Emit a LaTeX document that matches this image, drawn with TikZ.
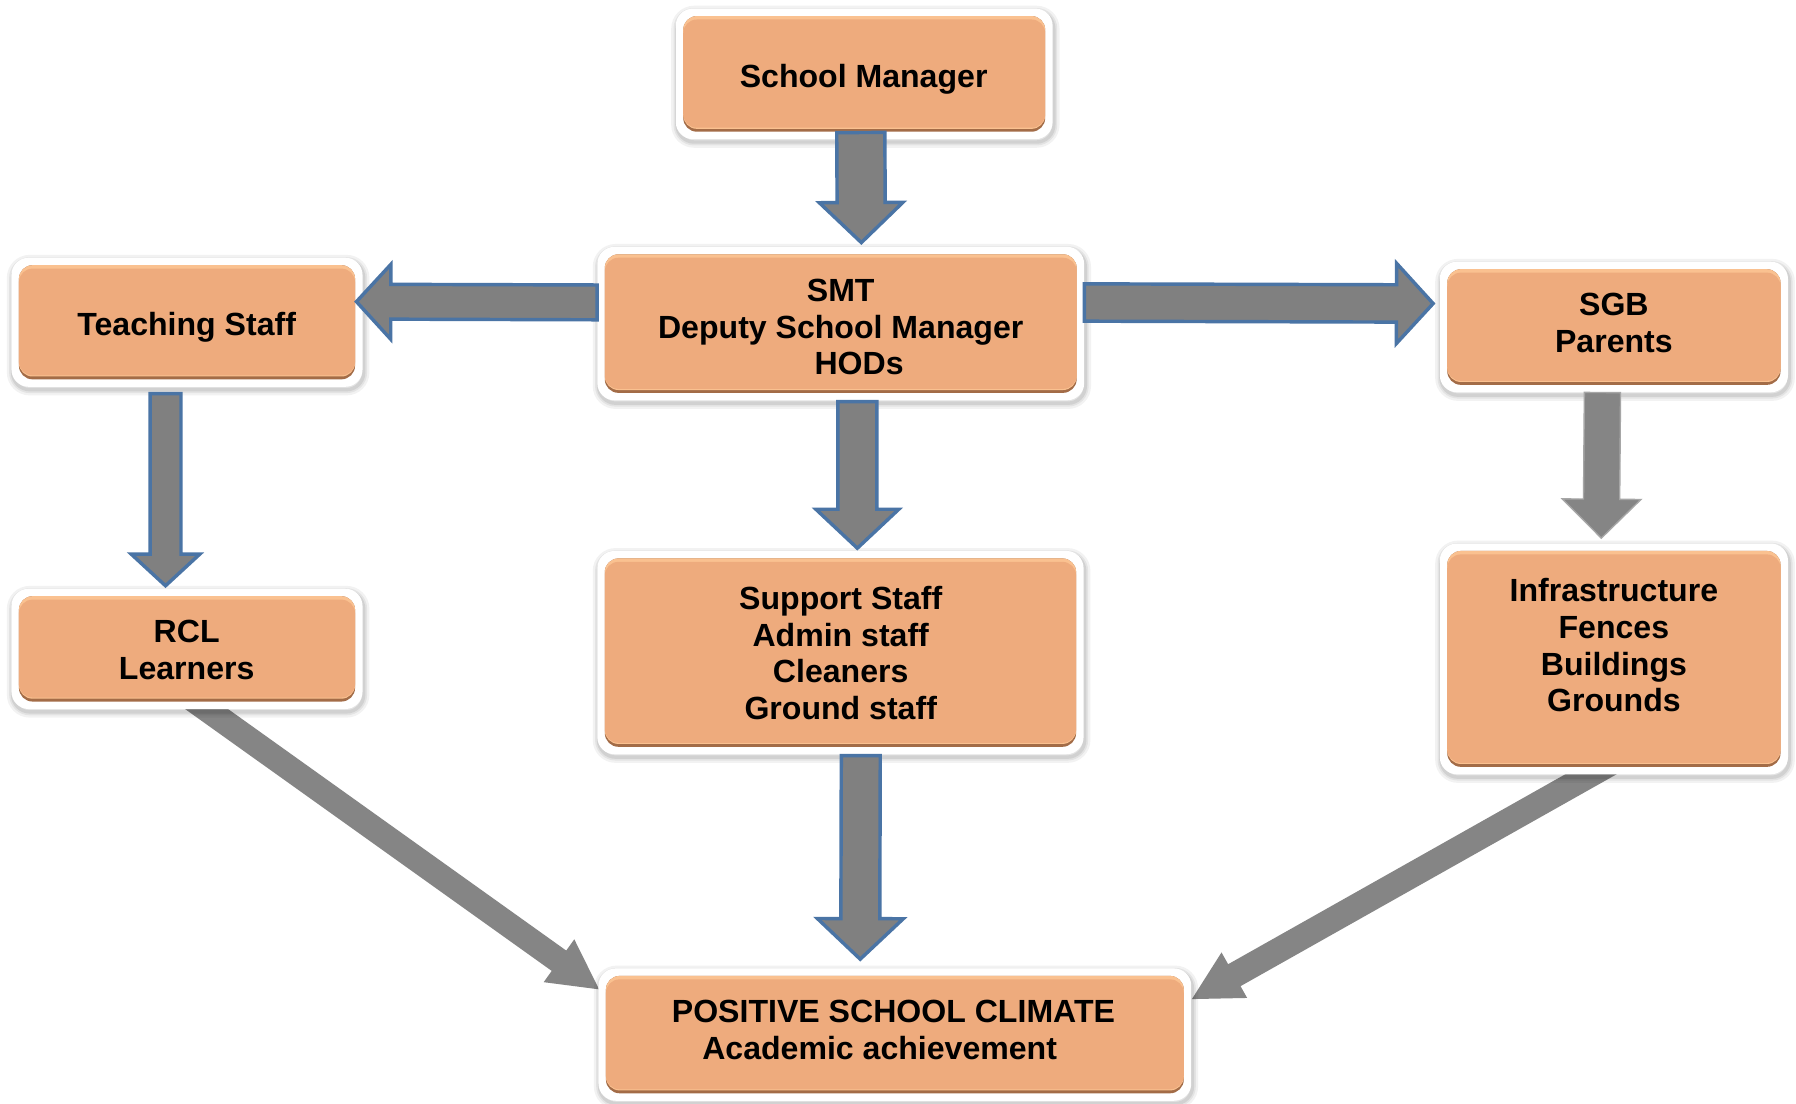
\documentclass[tikz,border=0pt]{standalone}
\usepackage{fontspec}
\setmainfont{Liberation Sans}
\usetikzlibrary{calc}
\definecolor{boxorange}{HTML}{EEAB7D}
\definecolor{rimlight}{HTML}{FAC190}
\definecolor{rimdark}{HTML}{A36C47}
\definecolor{arrowgray}{HTML}{808080}
\definecolor{plaingray}{HTML}{858585}
\definecolor{arrowblue}{HTML}{4A74A5}
\pgfdeclarelayer{background}
\pgfsetlayers{background,main}

\newcommand{\blockarr}[6]{%
  \coordinate (ba-s) at (#2);
  \coordinate (ba-t) at (#3);
  \coordinate (ba-b) at ($(ba-t)!#6!(ba-s)$);
  \draw[#1] ($(ba-s)!#4!90:(ba-t)$) -- ($(ba-b)!#4!90:(ba-t)$) -- ($(ba-b)!#5!90:(ba-t)$) -- (ba-t) -- ($(ba-b)!#5!-90:(ba-t)$) -- ($(ba-b)!#4!-90:(ba-t)$) -- ($(ba-s)!#4!-90:(ba-t)$) -- cycle;
}

\tikzset{
  orgbox/.style={rectangle, rounded corners=15pt, fill=white, draw=none, inner sep=0pt,
    preaction={draw=black, draw opacity=0.05, line width=10pt, transform canvas={xshift=1pt, yshift=-2.5pt}},
    preaction={draw=black, draw opacity=0.06, line width=6pt, transform canvas={xshift=1pt, yshift=-2.5pt}},
    preaction={draw=black, draw opacity=0.08, line width=3pt, transform canvas={xshift=1pt, yshift=-2.5pt}},
    path picture={
      \fill[rimdark, rounded corners=12pt] ([shift={(6.5pt,6.5pt)}]path picture bounding box.south west) rectangle ([shift={(-6.5pt,-6.5pt)}]path picture bounding box.north east);
      \fill[rimlight, rounded corners=12pt] ([shift={(6.5pt,9pt)}]path picture bounding box.south west) rectangle ([shift={(-6.5pt,-6.5pt)}]path picture bounding box.north east);
      \fill[boxorange, rounded corners=12pt] ([shift={(6.5pt,10pt)}]path picture bounding box.south west) rectangle ([shift={(-6.5pt,-9.5pt)}]path picture bounding box.north east);
    }},
  boxtext/.style={font=\bfseries\fontsize{28}{32}\selectfont, align=center, inner sep=0pt, text=black},
  blk/.style={fill=arrowgray, draw=arrowblue, line width=3pt, line join=miter},
  plainblk/.style={fill=plaingray, draw=none},
  greyblk/.style={fill=plaingray, draw=gray!70, line width=1.2pt, line join=miter}
}

\begin{document}
\begin{tikzpicture}[x=1pt, y=-1pt]
\begin{pgfonlayer}{background}
  \fill[white] (0,0) rectangle (1568,963);
\end{pgfonlayer}
\useasboundingbox (0,0) rectangle (1568,963);

% boxes
\node[orgbox, minimum width=329pt, minimum height=114pt] (sm) at (754.5,64.5) {};
\node[orgbox, minimum width=425pt, minimum height=134pt] (smt) at (734,282.5) {};
\node[orgbox, minimum width=306.5pt, minimum height=112.7pt] (teach) at (163.25,281.35) {};
\node[orgbox, minimum width=304pt, minimum height=114pt] (sgb) at (1409,285.5) {};
\node[orgbox, minimum width=306.5pt, minimum height=105pt] (rcl) at (163.25,566.5) {};
\node[orgbox, minimum width=424.5pt, minimum height=177.5pt] (sup) at (733.75,569.75) {};
\node[orgbox, minimum width=304pt, minimum height=201.5pt] (infra) at (1409,575.25) {};
\node[orgbox, minimum width=517.5pt, minimum height=115.5pt] (pos) at (781.25,903.25) {};

% texts
\node[boxtext] (smT) at (754,69) {School Manager};
\node[boxtext] (smtT) at (734,285.5) {SMT\\Deputy School Manager\\\mbox{\hspace{32pt}HODs}};
\node[boxtext] (teachT) at (163,286) {Teaching Staff};
\node[boxtext] (sgbT) at (1409,282) {SGB\\Parents};
\node[boxtext] (rclT) at (163,567.5) {RCL\\Learners};
\node[boxtext] (supT) at (734,570) {Support Staff\\Admin staff\\Cleaners\\Ground staff};
\node[boxtext] (infraT) at (1409,563.5) {Infrastructure\\Fences\\Buildings\\Grounds};
\node[boxtext] (posT) at (780,899) {POSITIVE SCHOOL CLIMATE\\\mbox{Academic achievement\hspace{24pt}}};

% diagonal arrows behind boxes
\begin{pgfonlayer}{background}
  \blockarr{plainblk}{$(rcl.south)+(-9.25,-19)$}{$(pos.west)+(0.7,-39.5)$}{10.9pt}{23pt}{43pt}
  \blockarr{plainblk}{$(infra.south)+(14,-19.4)$}{$(pos.east)+(0.4,-31)$}{11pt}{22.8pt}{42.5pt}
\end{pgfonlayer}

% block arrows
\blockarr{blk}{$(sm.south)+(-3,-6)$}{$(smt.north)+(18,-3.5)$}{21pt}{36.5pt}{35pt}
\blockarr{blk}{$(smt.west)+(0,-18.5)$}{$(teach.east)+(-5.5,-18)$}{15.2pt}{32.7pt}{30pt}
\blockarr{blk}{$(smt.east)+(0,-18.4)$}{$(sgb.west)+(-5.6,-20.5)$}{16.3pt}{35pt}{32pt}
\blockarr{blk}{$(teach.south)+(-18.75,5.8)$}{$(rcl.north)+(-18.75,-2.4)$}{13.5pt}{29.9pt}{27.6pt}
\blockarr{blk}{$(smt.south)+(14.5,1)$}{$(sup.north)+(14.75,-2.2)$}{17pt}{36.2pt}{34pt}
\blockarr{blk}{$(sup.south)+(17.75,1)$}{$(pos.north)+(-30.25,-7.9)$}{17pt}{37.5pt}{35.4pt}
\blockarr{greyblk}{$(sgb.south)+(-10,0)$}{$(infra.north)+(-11,-4.5)$}{15.8pt}{34.3pt}{34pt}
\end{tikzpicture}
\end{document}
